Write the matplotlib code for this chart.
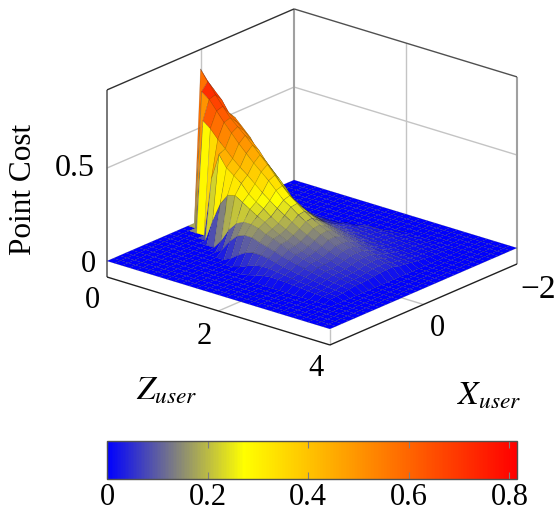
import numpy as np
import matplotlib
matplotlib.use('Agg')
import matplotlib.pyplot as plt
from matplotlib.colors import LinearSegmentedColormap, Normalize
from matplotlib.cm import ScalarMappable
from mpl_toolkits.mplot3d import proj3d

plt.rcParams['font.family'] = ['Liberation Serif', 'DejaVu Serif']
plt.rcParams['mathtext.fontset'] = 'stix'

W, H = 559, 518
FS = 22

# grid of the surface
x_user = np.linspace(-2, 2, 31)
z_user = np.linspace(0, 4, 31)

# nonzero part of each constant-X line
# first_x: index in x_user of the first line, first_z: where the values start in z_user
first_x = 5
first_z = [17, 14, 12, 10, 8, 6, 5, 3, 1, 0, 0, 1, 2, 4, 5, 7, 8, 10, 12, 14]
cost_rows = [
    [.006, .01, .009, .008, .007, .006, .005, .004, .003],
    [.012, .022, .022, .02, .018, .016, .014, .012, .01, .008, .007, .006],
    [.015, .03, .03, .03, .03, .028, .026, .023, .02, .017, .015, .012, .01, .008],
    [.02, .04, .04, .04, .04, .038, .035, .032, .028, .025, .022, .019, .016, .013, .011, .009],
    [.05, .08, .07, .065, .06, .055, .05, .046, .042, .038, .034, .03, .026, .022, .019, .016, .014, .012],
    [.10, .15, .14, .115, .095, .085, .08, .075, .07, .063, .057, .05, .045, .04, .035, .03, .026, .022, .018, .015],
    [.20, .29, .26, .21, .165, .14, .12, .11, .10, .09, .082, .075, .068, .06, .052, .045, .04, .034, .028, .024, .02],
    [.30, .44, .40, .36, .32, .28, .24, .19, .165, .145, .13, .12, .11, .10, .09, .08, .072, .062, .053, .045, .038, .032, .027],
    [.45, .58, .56, .52, .48, .42, .38, .34, .30, .25, .21, .19, .17, .155, .14, .125, .11, .10, .09, .077, .065, .054, .045, .036, .03],
    [.74, .70, .66, .60, .565, .53, .49, .45, .40, .355, .305, .26, .235, .21, .19, .17, .15, .135, .12, .105, .09, .08, .07, .06, .05, .04],
    [.815, .76, .70, .65, .60, .565, .53, .49, .45, .41, .365, .32, .28, .25, .22, .195, .17, .15, .13, .11, .097, .082, .07, .058, .048, .039],
    [.72, .69, .64, .59, .545, .50, .46, .42, .385, .35, .31, .27, .245, .215, .19, .165, .145, .127, .108, .094, .08, .068, .056, .047, .038],
    [.59, .56, .515, .475, .435, .40, .37, .335, .30, .27, .24, .215, .19, .165, .145, .127, .11, .094, .082, .07, .059, .049, .041, .033],
    [.32, .46, .40, .37, .34, .295, .265, .24, .21, .185, .165, .145, .125, .11, .097, .083, .072, .061, .052, .043, .036, .029],
    [.12, .22, .28, .29, .265, .24, .215, .195, .17, .15, .13, .115, .10, .088, .075, .065, .055, .047, .04, .033, .026],
    [.05, .12, .165, .185, .185, .175, .155, .143, .127, .11, .096, .085, .074, .063, .055, .047, .04, .033, .027],
    [.03, .085, .125, .14, .14, .125, .115, .103, .09, .08, .07, .06, .052, .045, .038, .032, .027, .02],
    [.02, .05, .075, .085, .085, .08, .07, .06, .052, .045, .04, .034, .029, .024, .02, .016],
    [.012, .03, .045, .052, .052, .047, .042, .036, .03, .027, .023, .019, .016, .013],
    [.008, .018, .028, .033, .032, .03, .027, .024, .02, .017, .014, .011],
]

cost = np.zeros((len(x_user), len(z_user)))
for k, row in enumerate(cost_rows):
    cost[first_x + k, first_z[k]:first_z[k] + len(row)] = row

cost_ticks = [0, 0.5]
bar_ticks = [0, 0.2, 0.4, 0.6, 0.8]
bar_labels = ['0', '0.2', '0.4', '0.6', '0.8']
zlo, zhi = -0.086, 0.92
vmax = 0.815

cm = LinearSegmentedColormap.from_list('pc', [(0, '#0000ff'), (1 / 3, '#ffff00'), (1, '#ff0000')])
norm = Normalize(0, vmax)

fig = plt.figure(figsize=(W / 100, H / 100), dpi=100)
ax = fig.add_subplot(projection='3d', computed_zorder=False)
ax.set_proj_type('ortho')
ax.view_init(elev=21.3, azim=40)
ax.set_box_aspect((1, 1, 0.69))
ax.set_xlim(-2, 2)
ax.set_ylim(0, 4)
ax.set_zlim(zlo, zhi)
ax.set_axis_off()
ax.patch.set_visible(False)

GRID = '#c4c4c4'
BOX = '#8c8c8c'


def line(xs, ys, zs, color=BOX, lw=1.0, zorder=1):
    ax.plot(xs, ys, zs, color=color, lw=lw, zorder=zorder, solid_capstyle='butt')


# grid on floor and back walls
for c in cost_ticks[1:]:
    line([2, -2], [0, 0], [c, c], GRID)
    line([-2, -2], [0, 4], [c, c], GRID)
line([0, 0], [0, 0], [zlo, zhi], GRID)
line([0, 0], [0, 4], [zlo, zlo], GRID)
line([-2, -2], [2, 2], [zlo, zhi], GRID)
line([-2, 2], [2, 2], [zlo, zlo], GRID)
line([2, 2], [4, 4], [zlo, 0], GRID)

# back box
line([-2, -2], [0, 0], [zlo, zhi], '#a0a0a0', 1.5)
line([2, 2], [0, 0], [zlo, zhi], '#606060', 1.2)
line([-2, -2], [4, 4], [zlo, zhi], '#a0a0a0', 1.5)
line([2, -2], [0, 0], [zhi, zhi], '#303030', 1.0)
line([-2, -2], [0, 4], [zhi, zhi], '#505050', 1.0)

X, Z = np.meshgrid(x_user, z_user, indexing='ij')
ax.plot_surface(X, Z, cost, cmap=cm, norm=norm, rstride=1, cstride=1, shade=False,
                linewidth=0.4, edgecolor=(0, 0, 0, 0.2), antialiased=True, zorder=2)

# front floor edges
line([2, 2], [0, 4], [zlo, zlo], '#202020', 1.0, 3)
line([2, -2], [4, 4], [zlo, zlo], '#202020', 1.0, 3)


# fit the 3d box onto the reference pixels
def project(px, py, pz):
    xd, yd, _ = proj3d.proj_transform(px, py, pz, ax.get_proj())
    return ax.transData.transform((xd, yd))


side = 600.0
cx, cy = 310.0, 300.0
for it in range(3):
    ax.set_position([(cx - side / 2) / W, (cy - side / 2) / H, side / W, side / H])
    fig.canvas.draw()
    left = project(2, 0, zlo)
    right = project(-2, 4, zlo)
    side = side * 410.0 / (right[0] - left[0])
    cx += 107 - left[0] if it else 0
    cy += (H - 277) - left[1] if it else 0
ax.set_position([(cx - side / 2) / W, (cy - side / 2) / H, side / W, side / H])


# labels placed on the reference positions
def label(px, py, s, size=FS, **kw):
    fig.text(px / W, 1 - py / H, s, ha='center', va='center', fontsize=size, **kw)


label(88, 264, '0')
label(75, 168, '0.5', 23)
label(92, 301, '0')
label(204, 336, '2')
label(316, 369, '4')
label(437, 329, '0')
label(538, 290, '\u22122', 24)
label(167, 391, r'$Z_{user}$', 24)
label(489, 396, r'$X_{user}$', 24)
label(24, 189, 'Point Cost', 22.5, rotation=90)

# colorbar
cax = fig.add_axes([107 / W, 1 - 479 / H, 410 / W, 38 / H])
cb = fig.colorbar(ScalarMappable(norm=norm, cmap=cm), cax=cax, orientation='horizontal')
cb.set_ticks(bar_ticks, labels=bar_labels)
cax.tick_params(axis='x', direction='in', top=True, bottom=True, length=5, width=0.8,
                color='#808080', labelsize=FS, pad=3)
cb.outline.set_edgecolor('#505050')
cb.outline.set_linewidth(1.0)

fig.savefig('out.png', dpi=100)
